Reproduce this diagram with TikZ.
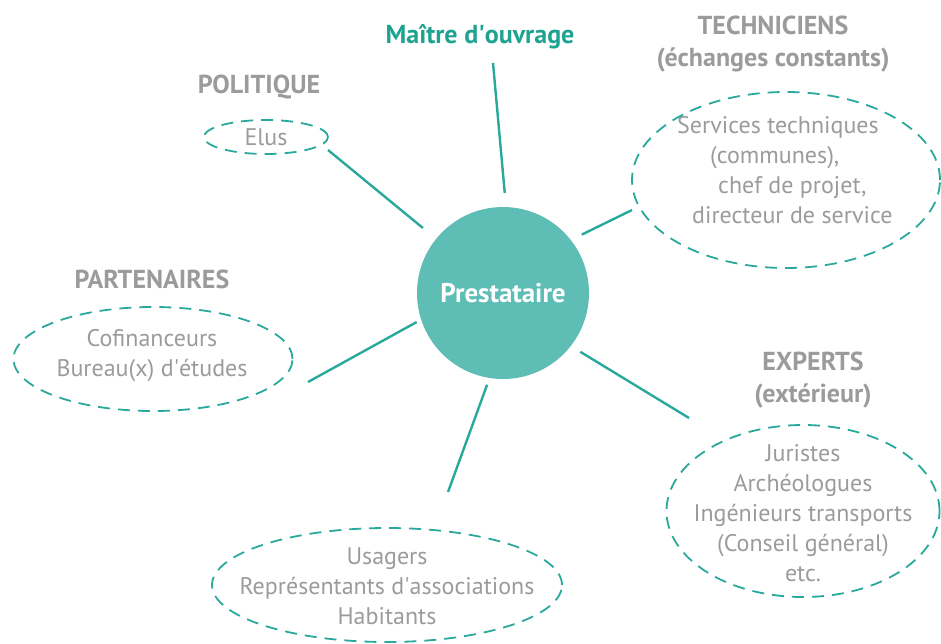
\documentclass[tikz,border=0pt]{standalone}
\usepackage{fontspec}
\setmainfont{PT Sans}
\usetikzlibrary{shapes.geometric}
\definecolor{tealfill}{HTML}{5EBDB5}
\definecolor{tealline}{HTML}{2AA89C}
\definecolor{tealtext}{HTML}{1FA391}
\definecolor{txtgray}{HTML}{9B9B9B}
\tikzset{
  link/.style={draw=tealline, line width=2.4pt},
  group/.style={draw=tealline, line width=1.8pt, dash pattern=on 12pt off 8pt},
  head/.style={font=\bfseries\fontsize{26}{32}\selectfont, text=txtgray, align=center, inner sep=0pt},
  members/.style={font=\fontsize{24}{30}\selectfont, text=txtgray, align=center, inner sep=0pt},
}
\begin{document}
\begin{tikzpicture}[x=1pt,y=-1pt]
  \useasboundingbox (0,0) rectangle (941,643);
  % Centre
  \node[circle, fill=tealfill, minimum size=172pt, inner sep=0pt, text=white,
        font=\bfseries\fontsize{27}{30}\selectfont] (presta) at (503,293) {Prestataire};

  % Maitre d'ouvrage
  \node[head, text=tealtext] (moa) at (480,37) {Maître d\textquotesingle ouvrage};
  \coordinate (moaend) at (493,63);

  % Politique
  \node[head] (politique) at (259,87) {POLITIQUE};
  \node[members] (elus) at (266,137) {Elus};
  \draw[group] (elus.center) ellipse (62pt and 17pt);
  \coordinate (elusend) at (328,150);

  % Techniciens
  \node[head] (techniciens) at (773,44) {TECHNICIENS\\(échanges constants)};
  \node[members, align=left, anchor=west] (services) at (677,170)
    {Services techniques\\\hspace*{33pt}(communes),\\\hspace*{41pt}chef de projet,\\\hspace*{15pt}directeur de service};
  \draw[group] (786,180) ellipse (154pt and 88pt);
  \coordinate (servend) at (632,210);

  % Partenaires
  \node[head] (partenaires) at (152,279) {PARTENAIRES};
  \node[members] (cofin) at (152,356) {Cofinanceurs\\Bureau(x) d\textquotesingle études};
  \draw[group] (153,359) ellipse (139.5pt and 52pt);
  \coordinate (cofinend) at (308,382);

  % Experts
  \node[head] (experts) at (813,380) {EXPERTS\\(extérieur)};
  \node[members] (juristes) at (803,513)
    {Juristes\\Archéologues\\Ingénieurs transports\\(Conseil général)\\etc.};
  \draw[group] (803,511) ellipse (136.5pt and 86pt);
  \coordinate (juristend) at (689,418);

  % Usagers
  \node[members] (usagers) at (387,586) {Usagers\\Représentants d\textquotesingle associations\\Habitants};
  \draw[group] (387,585) ellipse (175pt and 57pt);
  \coordinate (usagend) at (448,492);

  % Draw links
  \draw[link, shorten >=14pt] (moaend) -- (presta.88);
  \draw[link, shorten >=17pt] (elusend) -- (presta.141);
  \draw[link, shorten >=12pt] (servend) -- (presta.38);
  \draw[link, shorten >=5pt] (cofinend) -- (presta.198);
  \draw[link, shorten >=7pt] (usagend) -- (presta.261);
  \draw[link, shorten >=11pt] (juristend) -- (presta.322);
\end{tikzpicture}
\end{document}
